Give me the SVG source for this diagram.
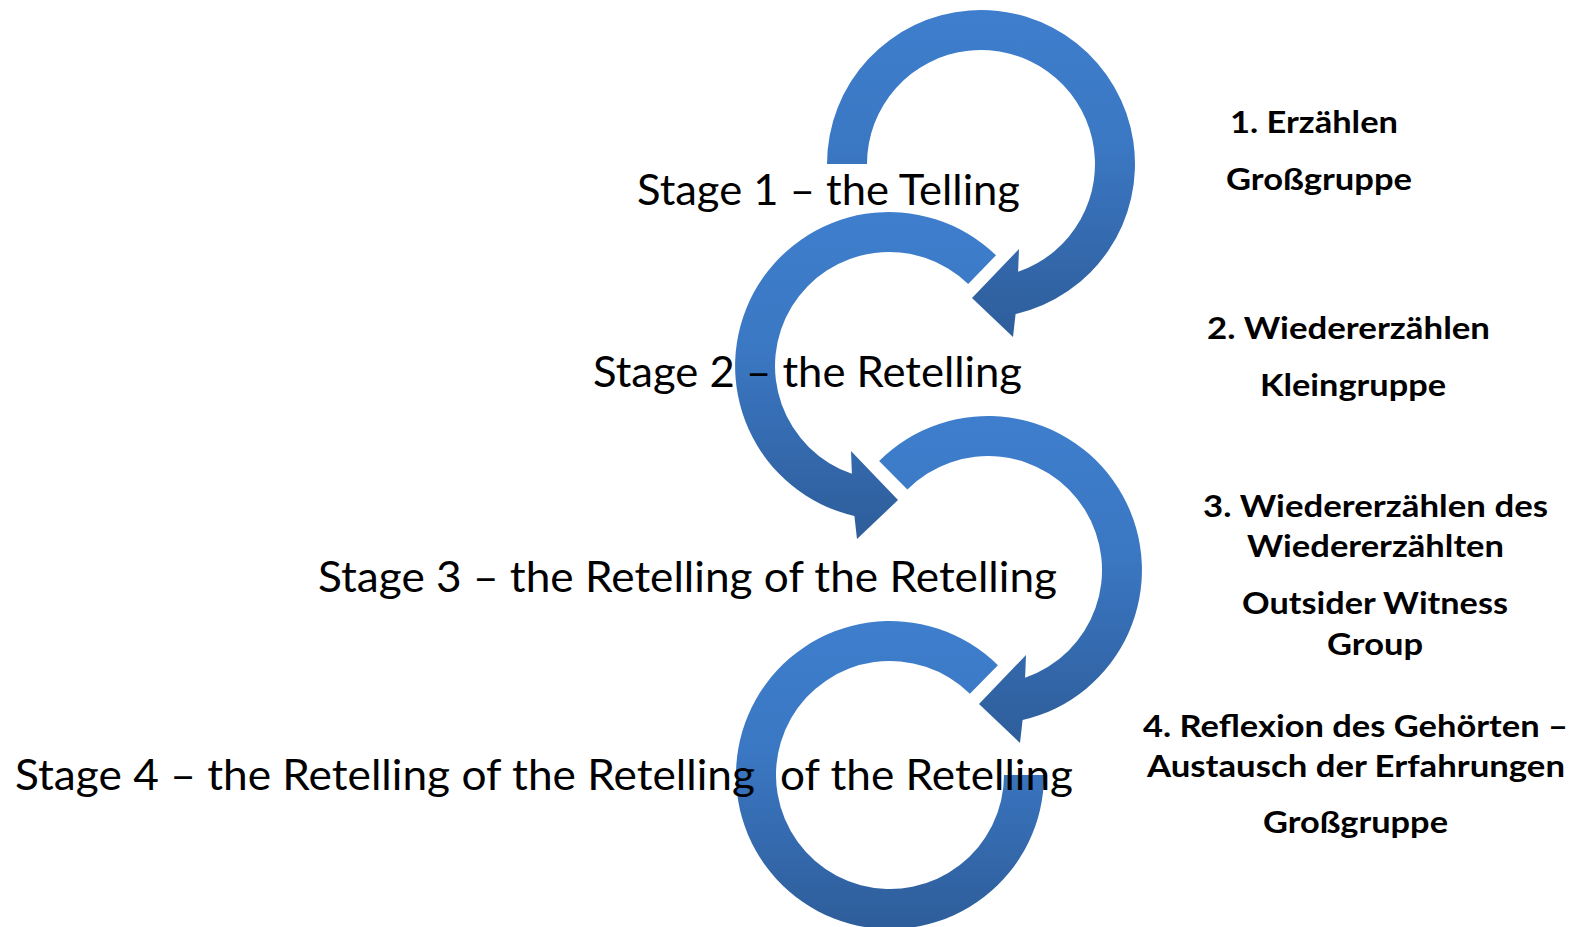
<svg xmlns="http://www.w3.org/2000/svg" width="1575" height="927" viewBox="0 0 1575 927">
<style>
.stage{font-family:Lato,"Open Sans","Liberation Sans",sans-serif;font-size:42px;fill:#000}
.note{font-family:Lato,"Open Sans","Liberation Sans",sans-serif;font-size:30px;font-weight:bold;fill:#000}
.arrow{fill:url(#blue)}
</style>
<defs>
<linearGradient id="blue" x1="0" y1="0" x2="0" y2="1">
<stop offset="0" stop-color="#3E7ECC"/>
<stop offset="0.4" stop-color="#3B78C4"/>
<stop offset="1" stop-color="#2E5D9A"/>
</linearGradient>
</defs>
<rect width="1575" height="927" fill="#fff"/>
<g id="connectors">
<path id="arrow1" class="arrow" d="M 827 164 A 154 154 0 1 1 1015.6 314.1 L 1013 337 L 972 298 L 1019 249 L 1018.1 271.8 A 114 114 0 1 0 867 164 Z"/>
<path id="arrow2" class="arrow" d="M 996 255.2 A 154 154 0 1 0 854.4 516.1 L 857 539 L 898 500 L 851 451 L 851.9 473.8 A 114 114 0 1 1 968.2 284 Z"/>
<path id="arrow3" class="arrow" d="M 879.1 461.1 A 154 154 0 1 1 1022.6 720.1 L 1020 743 L 979 704 L 1026 655 L 1025.1 677.8 A 114 114 0 1 0 907.4 489.4 Z"/>
<path id="arrow4" class="arrow" d="M 997.9 665.2 A 154 154 0 1 0 1044 775 L 1004 775 A 114 114 0 1 1 969.9 693.7 Z"/>
</g>
<g id="stage1"><text class="stage" x="637" y="205" textLength="383" lengthAdjust="spacingAndGlyphs">Stage 1 – the Telling</text></g>
<g id="stage2"><text class="stage" x="593" y="387" textLength="429" lengthAdjust="spacingAndGlyphs">Stage 2 – the Retelling</text></g>
<g id="stage3"><text class="stage" x="318" y="592" textLength="739" lengthAdjust="spacingAndGlyphs">Stage 3 – the Retelling of the Retelling</text></g>
<g id="stage4"><text class="stage" y="790"><tspan x="15" textLength="740" lengthAdjust="spacingAndGlyphs">Stage 4 – the Retelling of the Retelling</tspan><tspan x="780" textLength="293" lengthAdjust="spacingAndGlyphs">of the Retelling</tspan></text></g>
<g id="note1">
<text class="note" x="1230" y="133" textLength="168" lengthAdjust="spacingAndGlyphs">1. Erzählen</text>
<text class="note" x="1226" y="190" textLength="186" lengthAdjust="spacingAndGlyphs">Großgruppe</text>
</g>
<g id="note2">
<text class="note" x="1207" y="339" textLength="283" lengthAdjust="spacingAndGlyphs">2. Wiedererzählen</text>
<text class="note" x="1260" y="396" textLength="186" lengthAdjust="spacingAndGlyphs">Kleingruppe</text>
</g>
<g id="note3">
<text class="note" x="1203" y="517" textLength="345" lengthAdjust="spacingAndGlyphs">3. Wiedererzählen des</text>
<text class="note" x="1247" y="557" textLength="257" lengthAdjust="spacingAndGlyphs">Wiedererzählten</text>
<text class="note" x="1242" y="614" textLength="266" lengthAdjust="spacingAndGlyphs">Outsider Witness</text>
<text class="note" x="1327" y="655" textLength="96" lengthAdjust="spacingAndGlyphs">Group</text>
</g>
<g id="note4">
<text class="note" x="1143" y="737" textLength="425" lengthAdjust="spacingAndGlyphs">4. Reflexion des Gehörten –</text>
<text class="note" x="1147" y="777" textLength="418" lengthAdjust="spacingAndGlyphs">Austausch der Erfahrungen</text>
<text class="note" x="1263" y="833" textLength="185" lengthAdjust="spacingAndGlyphs">Großgruppe</text>
</g>
</svg>
